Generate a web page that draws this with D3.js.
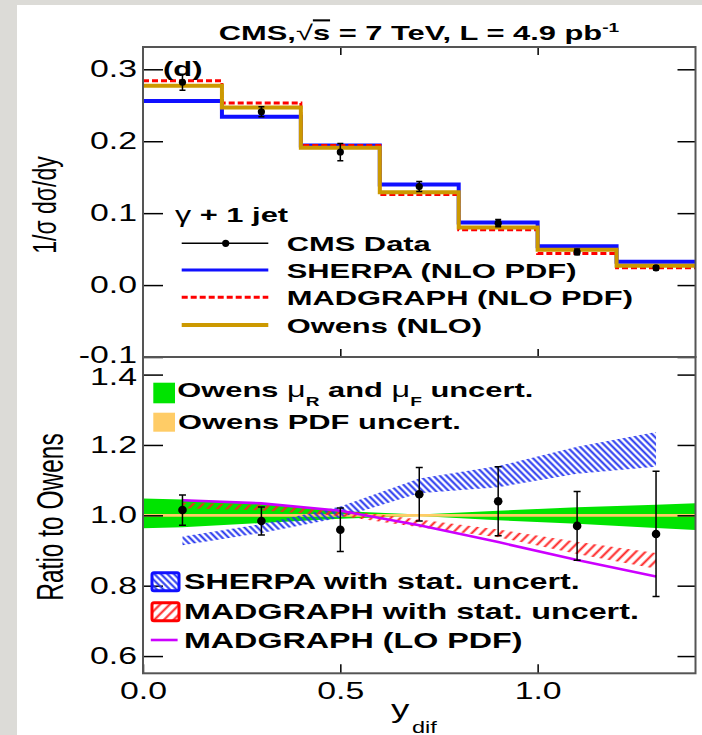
<!DOCTYPE html>
<html>
<head>
<meta charset="utf-8">
<script src="https://cdn.jsdelivr.net/npm/d3@7"></script>
<style>
  body { margin: 0; background: #fff; }
  svg { display: block; }
  text { font-family: "Liberation Sans", Arial, Helvetica, sans-serif; white-space: pre; }
</style>
</head>
<body>
<svg id="chart" width="702" height="735"></svg>
<script>
// ---- data: normalised y_dif distribution (top) ----
const binEdges   = [0, 0.2, 0.4, 0.6, 0.8, 1.0, 1.2, 1.4];
const binCenters = [0.1, 0.3, 0.5, 0.7, 0.9, 1.1, 1.3];
const cmsData    = [0.282, 0.241, 0.185, 0.137, 0.086, 0.046, 0.024];
const cmsErr     = [0.011, 0.007, 0.012, 0.007, 0.005, 0.004, 0.003];
const sherpaNLO  = [0.256, 0.234, 0.194, 0.140, 0.087, 0.054, 0.0325];
const madgraphNLO= [0.284, 0.253, 0.194, 0.126, 0.077, 0.044, 0.024];
const owensNLO   = [0.277, 0.247, 0.191, 0.129, 0.080, 0.049, 0.027];
const topTicks   = [0.3, 0.2, 0.1, 0.0, -0.1];

// ---- data: ratio to Owens (bottom) ----
const ratioData     = [1.015, 0.984, 0.959, 1.060, 1.040, 0.970, 0.947];
const ratioDataErr  = [0.043, 0.040, 0.062, 0.076, 0.098, 0.098, 0.178];
const scaleBandX    = [0, 0.1, 0.3, 0.5, 0.7, 0.9, 1.1, 1.3, 1.4];
const scaleBandLo   = [0.963, 0.966, 0.978, 0.990, 0.998, 0.986, 0.976, 0.964, 0.958];
const scaleBandHi   = [1.048, 1.045, 1.033, 1.012, 1.002, 1.013, 1.023, 1.030, 1.034];
const pdfBandLo     = [0.996, 0.996, 0.996, 0.996, 0.996, 0.996, 0.996, 0.996, 0.996];
const pdfBandHi     = [1.004, 1.004, 1.004, 1.004, 1.004, 1.004, 1.004, 1.004, 1.004];
const sherpaRatioLo = [0.915, 0.950, 0.993, 1.063, 1.080, 1.118, 1.138];
const sherpaRatioHi = [0.940, 0.975, 1.025, 1.105, 1.140, 1.195, 1.237];
const madRatioLo    = [1.020, 1.014, 0.998, 0.966, 0.938, 0.890, 0.848];
const madRatioHi    = [1.036, 1.030, 1.016, 0.988, 0.960, 0.925, 0.893];
const madLOratio    = [1.043, 1.034, 1.013, 0.972, 0.924, 0.873, 0.826];
const bottomTicks   = [1.4, 1.2, 1.0, 0.8, 0.6];
const xTicks        = [0, 0.5, 1.0];

// ---- layout ----
const SX = 1.47;                     // horizontal glyph stretch
const pL = 143, pR = 695.5, pT = 47, pM = 357, pB = 673.3;
const C = { blue: "#1010ff", red: "#ff0000", gold: "#cc9900", green: "#00e400",
            orange: "#ffcc66", magenta: "#cc00ff", frame: "#555" };

const svg = d3.select("#chart");

// page margin strips
svg.append("rect").attr("x", 0).attr("y", 0).attr("width", 702).attr("height", 5).attr("fill", "#dcdbd7");
svg.append("rect").attr("x", 0).attr("y", 0).attr("width", 17).attr("height", 735).attr("fill", "#dcdbd7");

const x = d3.scaleLinear().domain([0, 1.4]).range([pL, pR]);
const yTop = d3.scaleLinear().domain([-0.1, 0.331]).range([pM, pT]);
const yBot = d3.scaleLinear().domain([0.551, 1.45]).range([pB, pM]);

const defs = svg.append("defs");
defs.append("clipPath").attr("id", "clipTop").append("rect")
  .attr("x", pL).attr("y", pT).attr("width", pR - pL).attr("height", pM - pT);
defs.append("clipPath").attr("id", "clipBot").append("rect")
  .attr("x", pL).attr("y", pM).attr("width", pR - pL).attr("height", pB - pM);

function hatch(id, color, angle, gap, sw) {
  const p = defs.append("pattern").attr("id", id).attr("patternUnits", "userSpaceOnUse")
    .attr("width", gap).attr("height", gap).attr("patternTransform", `rotate(${angle})`);
  p.append("line").attr("x1", gap / 2).attr("y1", -1).attr("x2", gap / 2).attr("y2", gap + 1)
    .attr("stroke", color).attr("stroke-width", sw);
}
hatch("hatchBlue", "#2233ee", -45, 4.6, 2);
hatch("hatchRed", "#ff2020", 45, 6.8, 2);

// stretched text helper
function label(parent, px, py, str, o = {}) {
  const g = parent.append("g").attr("transform", `translate(${px},${py}) scale(${o.sx || SX},1)`);
  const t = g.append("text")
    .attr("font-size", o.size || 21)
    .attr("font-weight", o.weight || "bold")
    .attr("text-anchor", o.anchor || "start")
    .attr("fill", "#000");
  if (str != null) t.text(str);
  return t;
}

// ================= top panel =================
const gTop = svg.append("g").attr("clip-path", "url(#clipTop)");
const stepPts = vals => binEdges.map((e, i) => [e, vals[Math.min(i, vals.length - 1)]]);
const stepLine = d3.line().x(d => x(d[0])).y(d => yTop(d[1])).curve(d3.curveStepAfter);

gTop.append("path").attr("d", stepLine(stepPts(sherpaNLO)))
  .attr("fill", "none").attr("stroke", C.blue).attr("stroke-width", 4);
gTop.append("path").attr("d", stepLine(stepPts(madgraphNLO)))
  .attr("fill", "none").attr("stroke", C.red).attr("stroke-width", 3).attr("stroke-dasharray", "6,3");
gTop.append("path").attr("d", stepLine(stepPts(owensNLO)))
  .attr("fill", "none").attr("stroke", C.gold).attr("stroke-width", 4);

const ptsTop = gTop.selectAll("g.pt").data(binCenters.map((c, i) => ({ c, v: cmsData[i], e: cmsErr[i] })))
  .join("g").attr("class", "pt");
ptsTop.append("line").attr("x1", d => x(d.c)).attr("x2", d => x(d.c))
  .attr("y1", d => yTop(d.v - d.e)).attr("y2", d => yTop(d.v + d.e)).attr("stroke", "#000").attr("stroke-width", 1.5);
[-1, 1].forEach(s => ptsTop.append("line").attr("x1", d => x(d.c) - 3).attr("x2", d => x(d.c) + 3)
  .attr("y1", d => yTop(d.v + s * d.e)).attr("y2", d => yTop(d.v + s * d.e)).attr("stroke", "#000").attr("stroke-width", 1.5));
ptsTop.append("circle").attr("cx", d => x(d.c)).attr("cy", d => yTop(d.v)).attr("r", 3.6).attr("fill", "#000");

// ================= bottom panel =================
const gBot = svg.append("g").attr("clip-path", "url(#clipBot)");
const area = d3.area().x(d => x(d.x)).y0(d => yBot(d.lo)).y1(d => yBot(d.hi));
const bandRows = (xs, lo, hi) => xs.map((v, i) => ({ x: v, lo: lo[i], hi: hi[i] }));

gBot.append("path").attr("d", area(bandRows(scaleBandX, scaleBandLo, scaleBandHi))).attr("fill", C.green);
gBot.append("path").attr("d", area(bandRows(scaleBandX, pdfBandLo, pdfBandHi))).attr("fill", C.orange);
gBot.append("path").attr("d", area(bandRows(binCenters, sherpaRatioLo, sherpaRatioHi))).attr("fill", "url(#hatchBlue)");
gBot.append("path").attr("d", area(bandRows(binCenters, madRatioLo, madRatioHi))).attr("fill", "url(#hatchRed)");
gBot.append("path")
  .attr("d", d3.line().x((d, i) => x(binCenters[i])).y(d => yBot(d))(madLOratio))
  .attr("fill", "none").attr("stroke", C.magenta).attr("stroke-width", 2.6);

const ptsBot = gBot.selectAll("g.pt").data(binCenters.map((c, i) => ({ c, v: ratioData[i], e: ratioDataErr[i] })))
  .join("g").attr("class", "pt");
ptsBot.append("line").attr("x1", d => x(d.c)).attr("x2", d => x(d.c))
  .attr("y1", d => yBot(d.v - d.e)).attr("y2", d => yBot(d.v + d.e)).attr("stroke", "#000").attr("stroke-width", 1.5);
[-1, 1].forEach(s => ptsBot.append("line").attr("x1", d => x(d.c) - 3.5).attr("x2", d => x(d.c) + 3.5)
  .attr("y1", d => yBot(d.v + s * d.e)).attr("y2", d => yBot(d.v + s * d.e)).attr("stroke", "#000").attr("stroke-width", 1.5));
ptsBot.append("circle").attr("cx", d => x(d.c)).attr("cy", d => yBot(d.v)).attr("r", 4.3).attr("fill", "#000");

// ================= axes =================
const fmt = d => d.toFixed(1);
function styleAxis(g, withText) {
  g.select(".domain").remove();
  g.attr("font-family", null).attr("font-size", null);
  g.selectAll(".tick line").attr("stroke", "#000").attr("stroke-width", 1.5);
  if (withText) {
    g.selectAll(".tick text").attr("fill", "#000").attr("font-size", 23).attr("font-weight", "normal");
  }
}
// left axes with stretched labels; the lowest top label and the highest
// bottom label sit at the panel join, so they are nudged apart slightly
function leftAxis(scale, ticks, nudge) {
  const pad = 6;
  const g = svg.append("g").attr("transform", `translate(${pL},0)`)
    .call(d3.axisLeft(scale).tickValues(ticks).tickFormat(fmt).tickSizeInner(-20).tickSizeOuter(0).tickPadding(pad));
  styleAxis(g, true);
  g.selectAll(".tick text").attr("x", 0)
    .attr("transform", d => `translate(${-pad},${nudge(d)}) scale(${SX},1)`);
}
leftAxis(yTop, topTicks, d => (d === -0.1 ? -2 : 0));
leftAxis(yBot, bottomTicks, d => (d === 1.4 ? 2.5 : 0));

function rightAxis(scale, ticks) {
  const g = svg.append("g").attr("transform", `translate(${pR},0)`)
    .call(d3.axisRight(scale).tickValues(ticks).tickFormat("").tickSizeInner(-18).tickSizeOuter(0));
  styleAxis(g, false);
}
rightAxis(yTop, topTicks);
rightAxis(yBot, bottomTicks);

const gxTop = svg.append("g").attr("transform", `translate(0,${pT})`)
  .call(d3.axisTop(x).tickValues([0.5, 1.0]).tickFormat("").tickSizeInner(-8).tickSizeOuter(0));
styleAxis(gxTop, false);
const gxMid = svg.append("g").attr("transform", `translate(0,${pM})`)
  .call(d3.axisBottom(x).tickValues([0.5, 1.0]).tickFormat("").tickSizeInner(-8).tickSizeOuter(0));
styleAxis(gxMid, false);

const gxBot = svg.append("g").attr("transform", `translate(0,${pB})`)
  .call(d3.axisBottom(x).tickValues(xTicks).tickFormat(fmt).tickSizeInner(-9).tickSizeOuter(0).tickPadding(9.5));
styleAxis(gxBot, true);
gxBot.selectAll(".tick text").attr("transform", `scale(${SX},1)`);

// frames
[[pT, pM], [pM, pB]].forEach(([a, b]) => {
  svg.append("rect").attr("x", pL).attr("y", a).attr("width", pR - pL).attr("height", b - a)
    .attr("fill", "none").attr("stroke", C.frame).attr("stroke-width", 2);
});

// axis titles
svg.append("g").attr("transform", `translate(56,205) scale(${SX},1) rotate(-90)`)
  .append("text").attr("text-anchor", "middle").attr("font-size", 23).text("1/σ dσ/dy");
svg.append("g").attr("transform", `translate(63,517) scale(${SX},1) rotate(-90)`)
  .append("text").attr("text-anchor", "middle").attr("font-size", 24.5).text("Ratio to Owens");
label(svg, 391, 718, "y", { size: 25, weight: "normal" });
label(svg, 412, 733, "dif", { size: 16, weight: "normal" });

// title
const tt = label(svg, 419, 40, null, { size: 21, anchor: "middle" });
tt.append("tspan").text("CMS,");
tt.append("tspan").attr("font-weight", "normal").text("√");
tt.append("tspan").style("text-decoration", "overline").text("s");
tt.append("tspan").text(" = 7 TeV, L = 4.9 pb");
tt.append("tspan").attr("font-size", 13).attr("dy", -8).text("-1");

// panel tag
label(svg, 163, 75.5, "(d)", { size: 21 });

// ---- top legend ----
const gamma = label(svg, 175, 221.7, null, { size: 21 });
gamma.append("tspan").attr("font-weight", "normal").attr("font-size", 22).text("γ");
gamma.append("tspan").text(" + 1 jet");

const legTop = [
  { name: "CMS Data", y: 243.3, stroke: "#000", w: 1.5, dash: null, dot: true },
  { name: "SHERPA (NLO PDF)", y: 270, stroke: C.blue, w: 3, dash: null },
  { name: "MADGRAPH (NLO PDF)", y: 297.3, stroke: C.red, w: 3, dash: "6,3" },
  { name: "Owens (NLO)", y: 325, stroke: C.gold, w: 4, dash: null }
];
legTop.forEach(d => {
  svg.append("line").attr("x1", 181.7).attr("x2", 268.3).attr("y1", d.y).attr("y2", d.y)
    .attr("stroke", d.stroke).attr("stroke-width", d.w).attr("stroke-dasharray", d.dash);
  if (d.dot) svg.append("circle").attr("cx", 225.7).attr("cy", d.y).attr("r", 3.6).attr("fill", "#000");
  label(svg, 286.7, d.y + 7.6, d.name, { size: 21 });
});

// ---- bottom legends ----
svg.append("rect").attr("x", 153.3).attr("y", 382.7).attr("width", 21.7).attr("height", 20.6).attr("fill", C.green);
svg.append("rect").attr("x", 153.3).attr("y", 412.7).attr("width", 21.7).attr("height", 19).attr("fill", C.orange);
const muLeg = label(svg, 177.3, 396.5, null, { size: 21 });
muLeg.append("tspan").text("Owens ");
muLeg.append("tspan").attr("font-weight", "normal").attr("font-size", 22).text("μ");
muLeg.append("tspan").attr("font-size", 13).attr("dy", 9).text("R");
muLeg.append("tspan").attr("dy", -9).text(" and ");
muLeg.append("tspan").attr("font-weight", "normal").attr("font-size", 22).text("μ");
muLeg.append("tspan").attr("font-size", 13).attr("dy", 9).text("F");
muLeg.append("tspan").attr("dy", -9).text(" uncert.");
label(svg, 178, 428.5, "Owens PDF uncert.", { size: 21 });

const legBot = [
  { name: "SHERPA with stat. uncert.", y: 571.7, fill: "url(#hatchBlue)", stroke: C.blue },
  { name: "MADGRAPH with stat. uncert.", y: 601.7, fill: "url(#hatchRed)", stroke: C.red }
];
legBot.forEach(d => {
  svg.append("rect").attr("x", 152).attr("y", d.y + 1).attr("width", 27).attr("height", 18).attr("rx", 2)
    .attr("fill", d.fill).attr("stroke", d.stroke).attr("stroke-width", 3);
  label(svg, 184, d.y + 16.8, d.name, { size: 21.5, sx: 1.5 });
});
svg.append("line").attr("x1", 150.8).attr("x2", 177.6).attr("y1", 640).attr("y2", 640)
  .attr("stroke", C.magenta).attr("stroke-width", 2.6);
label(svg, 184, 647.5, "MADGRAPH (LO PDF)", { size: 21.5, sx: 1.5 });
</script>
</body>
</html>
